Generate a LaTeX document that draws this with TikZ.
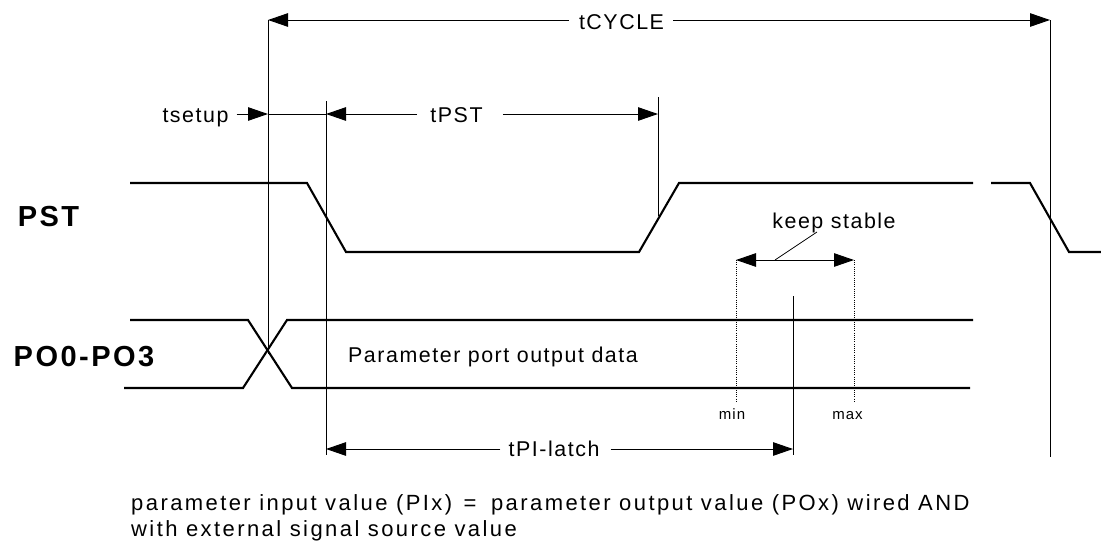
\documentclass[tikz,border=0pt]{standalone}
\usepackage{fontspec}
\setmainfont{Liberation Sans}
\newfontfamily\lblfont[LetterSpace=7.2]{Liberation Sans}
\newfontfamily\sigfont[LetterSpace=8.5]{Liberation Sans}
\newfontfamily\notefont[LetterSpace=11]{Liberation Sans}
\usetikzlibrary{arrows.meta}
\begin{document}
\begin{tikzpicture}[x=1pt,y=-1pt,
  sigline/.style={line width=2.1pt, line join=miter},
  refline/.style={line width=1pt},
  dimline/.style={line width=1pt},
  tipr/.style={-{Triangle[length=20pt,width=13.5pt]}},
  tipboth/.style={{Triangle[length=20pt,width=13.5pt]}-{Triangle[length=20pt,width=13.5pt]}},
  dotline/.style={line width=0.9pt, dash pattern=on 1pt off 1.2pt},
  lbl/.style={inner sep=0pt, anchor=base, font={\lblfont\fontsize{21.4}{25}\selectfont}},
  siglbl/.style={inner sep=0pt, anchor=base, font={\sigfont\bfseries\fontsize{29}{34}\selectfont}},
  small/.style={inner sep=0pt, anchor=base, font={\lblfont\fontsize{15}{18}\selectfont}},
  note/.style={inner sep=0pt, anchor=base west, font={\notefont\fontsize{22}{26}\selectfont}}
]
\useasboundingbox (0,0) rectangle (1101,546);

% ---- coordinates ----
\coordinate (c1t) at (268,20);
\coordinate (c1b) at (268,354);
\coordinate (c4t) at (1050,20);
\coordinate (c4b) at (1050,457);
\coordinate (c2t) at (326,101);
\coordinate (c2b) at (326,455);
\coordinate (c3t) at (658,97);
\coordinate (c3b) at (658,216);
\coordinate (c5t) at (793,296);
\coordinate (c5b) at (793,455);
\coordinate (s1) at (268,114);
\coordinate (s2) at (326,114);
\coordinate (s3) at (658,114);
\coordinate (l1) at (326,449);
\coordinate (l2) at (793,449);
\coordinate (k1) at (736,260);
\coordinate (k2) at (854,260);
\coordinate (k1b) at (736,403);
\coordinate (k2b) at (854,403);
\coordinate (kl) at (817,232);
\coordinate (km) at (775,260);

% ---- labels ----
\node[lbl] (tcyc) at (621.5,29.3) {tCYCLE};
\node[lbl] (tsetup) at (195.5,122) {tsetup};
\node[lbl] (tpst) at (456.5,122.5) {tPST};
\node[lbl] (tpi) at (554,456.7) {tPI-latch};
\node[lbl] (keep) at (834,228.3) {keep stable};
\node[lbl] (pdata) at (493,362.7) {Parameter port output data};
\node[siglbl] (pst) at (48.5,226.5) {PST};
\node[siglbl] (po) at (84,366) {PO0-PO3};
\node[small] (min) at (732,419) {min};
\node[small] (max) at (847.5,419) {max};
\node[note] (note1) at (131,510.7) {parameter input value (PIx)\hspace{3pt} =\hspace{6pt} parameter output value (POx) wired AND};
\node[note] (note2) at (131,536) {with external signal source value};

% ---- signals ----
\draw[sigline] (130,183) -- (307,183) -- (346,252) -- (639,252) -- (679,183) -- (973,183);
\draw[sigline] (991,183) -- (1030,183) -- (1069,252) -- (1101,252);
\draw[sigline] (130,320) -- (248,320) -- (292,388) -- (970,388);
\draw[sigline] (124,388) -- (243,388) -- (287,320) -- (973,320);

% ---- reference lines ----
\draw[refline] (c1t) -- (c1b);
\draw[refline] (c4t) -- (c4b);
\draw[refline] (c2t) -- (c2b);
\draw[refline] (c3t) -- (c3b);
\draw[refline] (c5t) -- (c5b);
\draw[dotline] (k1) -- (k1b);
\draw[dotline] (k2) -- (k2b);

% ---- dimension arrows ----
\draw[dimline,tipr,shorten <=10pt] (tcyc.west |- c1t) -- (c1t);
\draw[dimline,tipr,shorten <=9pt] (tcyc.east |- c4t) -- (c4t);
\draw[dimline,tipr,shorten <=8pt] (tsetup.east |- s1) -- (s1);
\draw[dimline] (s1) -- (s2);
\draw[dimline,tipr,shorten <=13pt] (tpst.west |- s2) -- (s2);
\draw[dimline,tipr,shorten <=20pt] (tpst.east |- s3) -- (s3);
\draw[dimline,tipr,shorten <=8pt] (tpi.west |- l1) -- (l1);
\draw[dimline,tipr,shorten <=11pt] (tpi.east |- l2) -- (l2);
\draw[dimline,tipboth] (k1) -- (k2);
\draw[line width=0.8pt] (kl) -- (km);
\end{tikzpicture}
\end{document}
